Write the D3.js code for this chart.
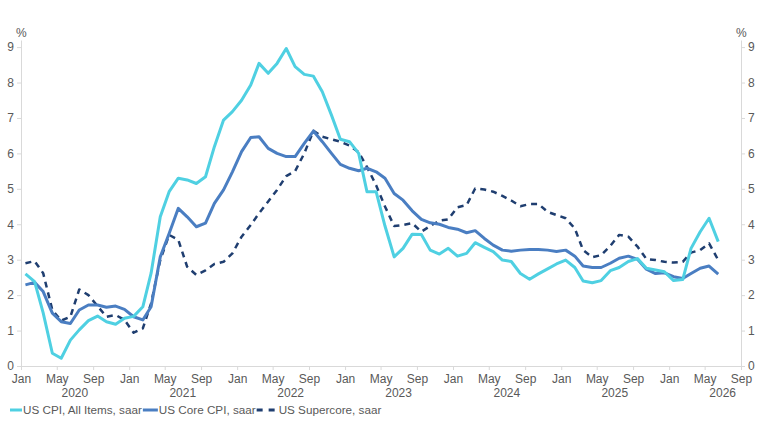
<!DOCTYPE html>
<html>
<head>
<meta charset="utf-8">
<script src="https://cdn.jsdelivr.net/npm/d3@7"></script>
<style>
  body { margin: 0; background: #fff; }
  svg text { font-family: "Liberation Sans", Arial, sans-serif; fill: #595959; }
</style>
</head>
<body>
<script>
var width = 770;
var height = 428;

// monthly values, Jan 2020 .. Jun 2026
var startYear = 2020;
var cpi = [2.6,2.38,1.5,0.36,0.22,0.73,1.02,1.28,1.41,1.25,1.18,1.35,
           1.4,1.67,2.62,4.21,4.92,5.3,5.25,5.15,5.34,6.19,6.94,7.18,
           7.5,7.93,8.54,8.26,8.54,8.96,8.45,8.23,8.18,7.74,7.08,6.4,
           6.33,6.0,4.92,4.92,3.95,3.08,3.32,3.72,3.71,3.27,3.16,3.32,
           3.1,3.18,3.48,3.35,3.23,2.99,2.95,2.61,2.45,2.6,2.74,2.88,
           2.99,2.78,2.4,2.35,2.41,2.69,2.78,2.95,3.03,2.76,2.71,2.66,
           2.41,2.44,3.32,3.79,4.17,3.51];
var core = [2.29,2.36,2.1,1.49,1.25,1.2,1.58,1.72,1.72,1.66,1.69,1.6,
            1.39,1.3,1.67,3.08,3.74,4.45,4.21,3.93,4.03,4.59,4.97,5.48,
            6.05,6.45,6.47,6.14,6.0,5.91,5.91,6.28,6.63,6.33,6.0,5.69,
            5.58,5.51,5.58,5.48,5.3,4.87,4.68,4.38,4.14,4.04,4.0,3.91,
            3.86,3.76,3.82,3.6,3.41,3.27,3.24,3.27,3.29,3.29,3.27,3.23,
            3.27,3.1,2.82,2.78,2.78,2.9,3.04,3.1,3.01,2.73,2.61,2.63,
            2.52,2.47,2.61,2.76,2.82,2.59];
var supercore = [2.9,2.96,2.62,1.58,1.28,1.39,2.16,2.0,1.69,1.39,1.44,1.3,
                 0.94,1.06,1.77,2.99,3.7,3.56,2.8,2.57,2.7,2.88,2.94,3.18,
                 3.65,3.98,4.31,4.64,4.97,5.36,5.5,6.0,6.64,6.47,6.4,6.33,
                 6.22,6.03,5.62,5.1,4.5,3.95,3.98,4.03,3.79,3.95,4.1,4.14,
                 4.48,4.54,5.01,4.98,4.92,4.8,4.67,4.51,4.57,4.57,4.35,4.26,
                 4.17,3.88,3.27,3.07,3.13,3.39,3.7,3.65,3.37,3.02,2.99,2.94,
                 2.92,2.94,3.2,3.27,3.46,2.99];
var seriesNames = ["US CPI, All Items, saar", "US Core CPI, saar", "US Supercore, saar"];
var yTicks = [0,1,2,3,4,5,6,7,8,9];
var years = [2020,2021,2022,2023,2024,2025,2026];

var colors = ["#4fd0e2", "#4a7ec2", "#1f3e70"];
var dashes = [null, null, "6,5"];

var plotL = 21, plotR = 741, plotT = 40, plotB = 366;

var x = d3.scaleTime()
  .domain([new Date(2020, 0, 1), new Date(2026, 8, 1)])
  .range([plotL, plotR]);
var y = d3.scaleLinear().domain([0, 9.2]).range([plotB, plotT]);

var svg = d3.select("body").append("svg")
  .attr("width", width)
  .attr("height", height);

// axes
var yl = svg.append("g")
  .attr("transform", "translate(" + plotL + ",0)")
  .call(d3.axisLeft(y).tickValues(yTicks).tickSize(4).tickSizeOuter(0).tickPadding(3));
var yr = svg.append("g")
  .attr("transform", "translate(" + plotR + ",0)")
  .call(d3.axisRight(y).tickValues(yTicks).tickSize(4).tickSizeOuter(0).tickPadding(3));
var xa = svg.append("g")
  .attr("transform", "translate(0," + plotB + ")")
  .call(d3.axisBottom(x)
    .ticks(d3.timeMonth.every(4))
    .tickFormat(d3.timeFormat("%b"))
    .tickSize(4).tickSizeOuter(0).tickPadding(4));

[yl, yr, xa].forEach(function(g) {
  g.select(".domain").attr("stroke", "#d9d9d9");
  g.selectAll(".tick line").attr("stroke", "#d9d9d9");
  g.selectAll(".tick text").style("font-size", "12px").attr("fill", "#595959");
});

// year labels
svg.selectAll(".yr")
  .data(years)
  .enter()
  .append("text")
  .attr("class", "yr")
  .attr("x", function(d) { return x(new Date(d, 6, 1)); })
  .attr("y", 397)
  .attr("text-anchor", "middle")
  .style("font-size", "12px")
  .text(function(d) { return d; });

// % labels
svg.append("text").attr("x", 16).attr("y", 37).style("font-size", "12px").text("%");
svg.append("text").attr("x", 736).attr("y", 37).style("font-size", "12px").text("%");

// lines
var line = d3.line()
  .x(function(d, i) { return x(new Date(startYear, i, 16)); })
  .y(function(d) { return y(d); });

var allSeries = [supercore, core, cpi];
var order = [2, 1, 0];
allSeries.forEach(function(s, k) {
  var c = order[k];
  svg.append("path")
    .datum(s)
    .attr("fill", "none")
    .attr("stroke", colors[c])
    .attr("stroke-width", c == 2 ? 2.5 : 3)
    .attr("stroke-dasharray", dashes[c])
    .attr("stroke-linejoin", "round")
    .attr("d", line);
});

// legend
var legW = [12, 15, 21];
var lg = svg.append("g").attr("transform", "translate(0,410)");
var cx = 10;
seriesNames.forEach(function(n, i) {
  lg.append("line")
    .attr("x1", cx).attr("x2", cx + legW[i])
    .attr("y1", 0).attr("y2", 0)
    .attr("stroke", colors[i])
    .attr("stroke-width", 3)
    .attr("stroke-dasharray", i == 2 ? "6,6" : null);
  var t = lg.append("text")
    .attr("x", cx + legW[i] + 1)
    .attr("y", 4)
    .style("font-size", "11.7px")
    .attr("fill", "#404040")
    .text(n);
  cx = cx + legW[i] + 1 + t.node().getComputedTextLength() + 1;
});
</script>
</body>
</html>
